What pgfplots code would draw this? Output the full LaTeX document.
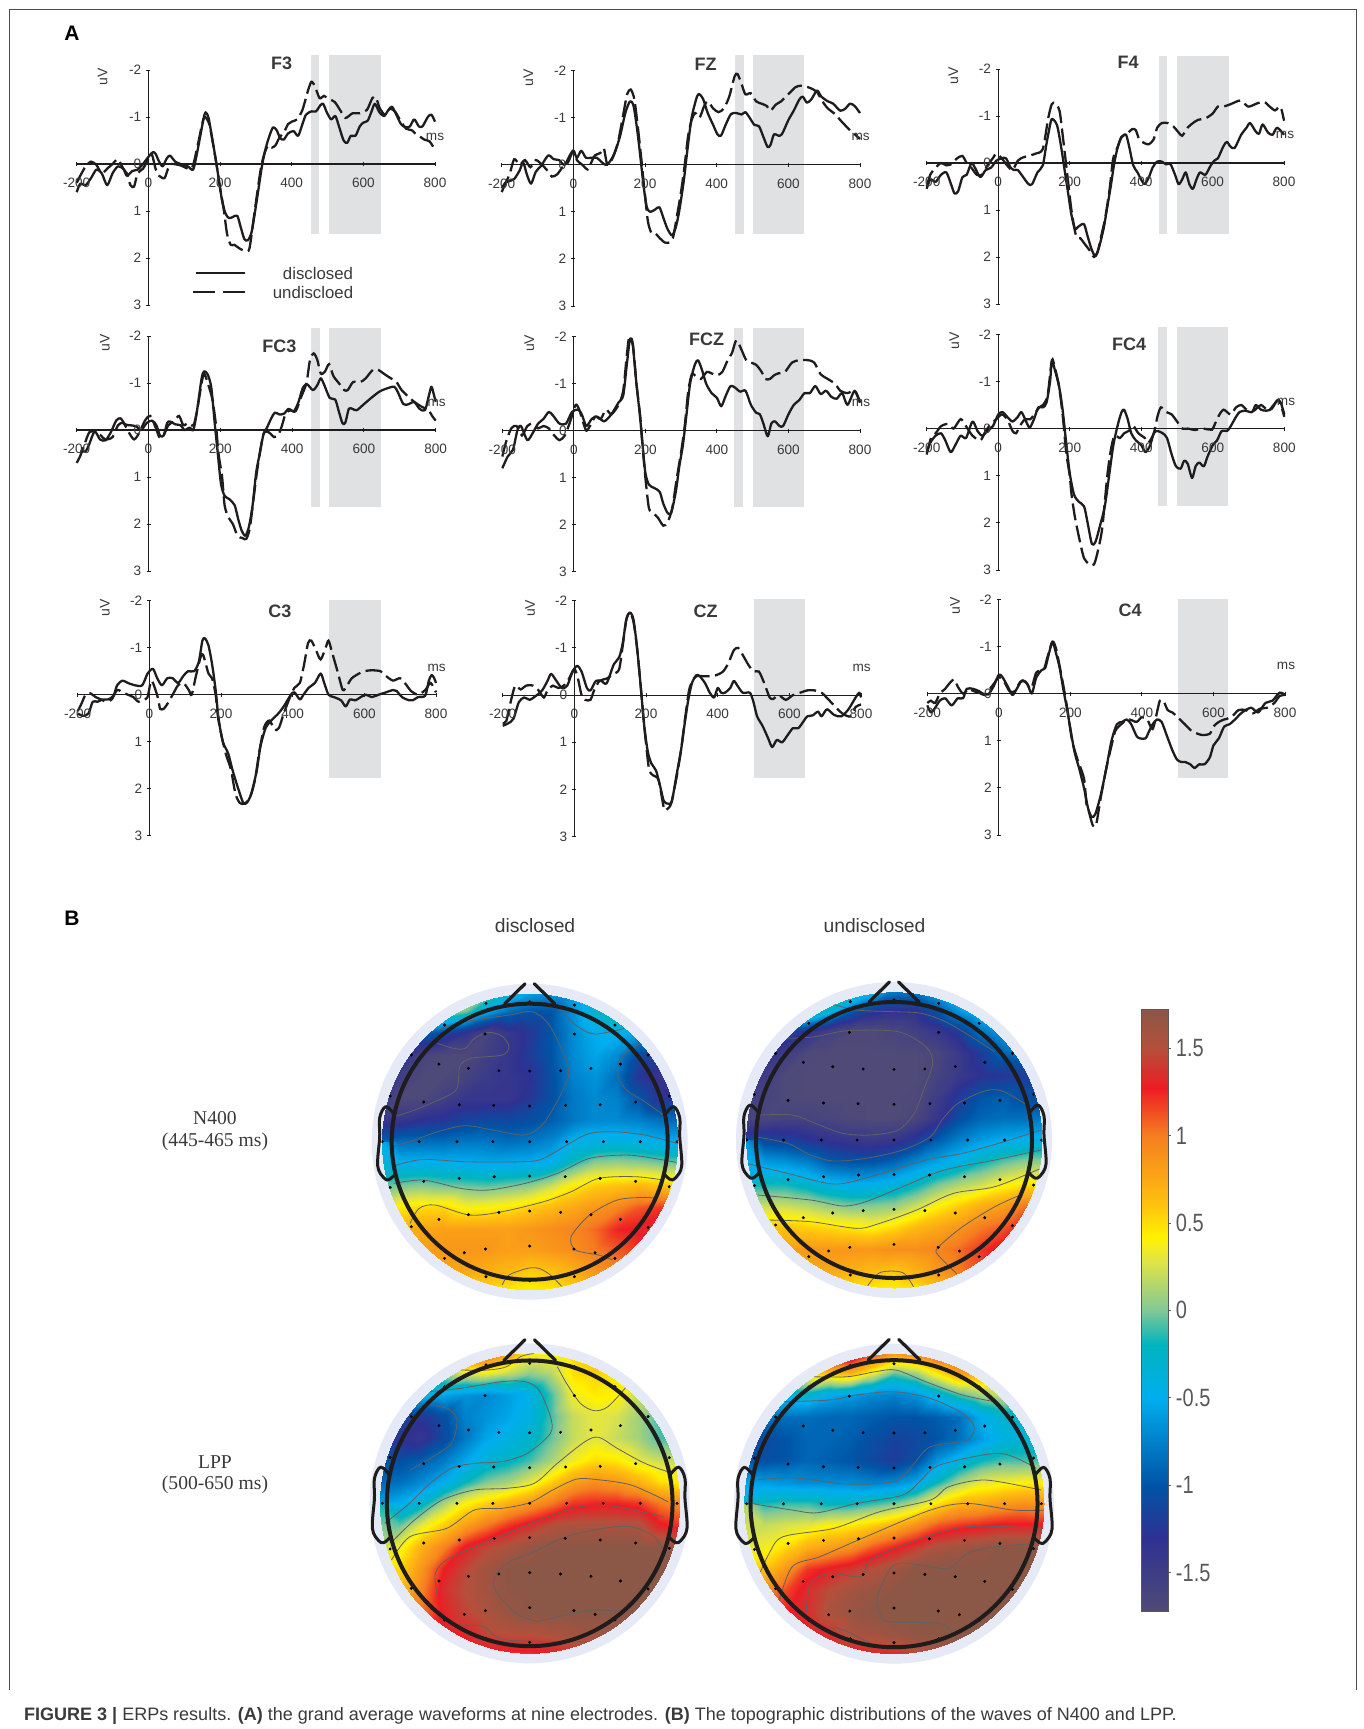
\documentclass[border=0pt]{standalone}
\usepackage{fontspec}
\usepackage{pgfplots}
\usepackage{pgfplotstable}
\pgfplotsset{compat=1.18}
\setmainfont{Liberation Sans}
\newfontfamily\serifl{Liberation Serif}
\definecolor{ink}{HTML}{1E1C1D}
\definecolor{lab}{HTML}{3A3A3A}
\definecolor{band}{HTML}{E0E1E3}
\definecolor{halo}{HTML}{E6EAF6}
\definecolor{barlab}{HTML}{58595B}
\newcommand\fs[1]{\fontsize{#1}{#1}\selectfont}
\pgfplotsset{
  colormap={topo}{rgb255(0pt)=(79,74,120); rgb255(42pt)=(46,49,146); rgb255(72pt)=(0,84,166);
    rgb255(122pt)=(0,174,239); rgb255(152pt)=(0,180,190); rgb255(172pt)=(130,200,150);
    rgb255(200pt)=(225,228,70); rgb255(214pt)=(255,242,0); rgb255(232pt)=(255,194,14);
    rgb255(272pt)=(245,125,32); rgb255(299pt)=(237,28,36); rgb255(322pt)=(180,80,60);
    rgb255(344pt)=(139,87,70)},
  erpax/.style={scale only axis, clip=false, axis lines=middle, axis line style={-,line width=1.1pt,ink},
    xmin=-200,xmax=800,ymin=-2,ymax=3,y dir=reverse, axis on top,
    hide obscured x ticks=false, hide obscured y ticks=false,
    xtick={-200,0,200,400,600,800}, xticklabels={-200,0,200,400,600,800},
    ytick={-2,-1,0,1,2,3}, yticklabels={-2,-1,0,1,2,3},
    major tick length=4pt, tick style={ink,line width=.9pt},
    xticklabel style={font=\fs{13.6},text=lab,inner sep=0pt,anchor=center,yshift=-17pt},
    yticklabel style={font=\fs{13.6},text=lab,inner sep=0pt,anchor=east,xshift=-5pt}},
  solidc/.style={ink,line width=2.3pt,no markers,line join=round,smooth,tension=.45},
  dashc/.style={ink,line width=2.3pt,no markers,smooth,tension=.45,dash pattern=on 17pt off 5.5pt},
  bandp/.style={fill=band,draw=none,no markers},
  ctr/.style={no markers,line width=.8pt,color=black!62,smooth}
}
\newcommand\erp[7]{%
  \pgfmathsetmacro\axw{#2-#1}\pgfmathsetmacro\axh{#4-#3}%
  \begin{axis}[erpax,at={(#1pt,-#3pt)},anchor=north west,width=\axw pt,height=\axh pt]
  #5
  \addplot[solidc] table[row sep=\\,header=false] {#6};
  \addplot[dashc] table[row sep=\\,header=false] {#7};
  \end{axis}}
\newcommand\bnd[4]{\addplot[bandp] coordinates {(#1,#3)(#2,#3)(#2,#4)(#1,#4)} --cycle;}
\newcommand\lbls[7]{%
  \node[font=\fs{18}\bfseries,text=lab,inner sep=0pt] at (#2pt,-#3pt) {#1};
  \node[font=\fs{14},text=lab,rotate=90,inner sep=0pt] at (#4pt,-#5pt) {uV};
  \node[font=\fs{13.6},text=lab,inner sep=0pt] at (#6pt,-#7pt) {ms};}
\newcommand\cl[1]{\addplot[ctr] coordinates {#1};}
\pgfplotstableread{
-185 -350
185 -350
-97 -323
97 -323
-257 -260
257 -260
-197 -233
197 -233
-133 -220
133 -220
-67 -213
67 -213
0 -212
-303 -137
303 -137
-230 -119
230 -119
-153 -111
153 -111
-78 -109
78 -109
0 -107
-320 0
-240 0
-158 0
-80 0
0 0
80 0
160 0
240 0
320 0
-230 119
-153 110
-77 105
0 103
77 105
153 110
230 119
-303 137
303 135
-197 233
-133 219
-67 212
0 208
67 212
133 219
197 233
-257 255
257 257
-185 350
-142 333
-96 322
0 313
96 322
142 333
185 350
-95 405
0 417
97 405
-95 -415
0 -420
97 -410
}\elecs
% #1 cx #2 cy (px) #3 disc r #4 zoom cx #5 zoom cy #6 head scale #7 values #8 contours
\newcommand\topo[8]{%
  \pgfmathsetmacro\hr{#3+10}%
  \fill[halo] (#1pt,-#2pt) circle (\hr pt);
  \begin{scope}
  \clip (#1pt,-#2pt) circle (#3pt);
  \pgfmathsetmacro\xa{#4-330}\pgfmathsetmacro\xb{#4+330}\pgfmathsetmacro\ya{#5-456}\pgfmathsetmacro\yb{#5+456}%
  \begin{axis}[scale only axis,hide axis,at={(#1pt,-#2pt)},anchor=center,width=304pt,height=304pt,
    xmin=\xa,xmax=\xb,ymin=\ya,ymax=\yb,y dir=reverse,colormap name=topo,point meta min=-1.72,point meta max=1.72]
  \addplot[surf,shader=interp,mesh/cols=15,point meta=\thisrowno{0}] table[row sep=\\,header=false,
     x expr={#4-330+47.143*mod(\coordindex,15)},y expr={#5-456+65.143*floor(\coordindex/15)}] {#7};
  #8
  \addplot[only marks,mark=*,mark size=1.3pt,black] table[x expr=\thisrowno{0}+#4,y expr=\thisrowno{1}+#5] {\elecs};
  \end{axis}
  \end{scope}
  \begin{scope}[shift={(#1pt,-#2pt)},x=1pt,y=-1pt,scale=#6]
  \draw[ink,line width=4pt] (0,0) circle (138);
  \draw[ink,line width=3.2pt,line cap=round] (-25,-138) -- (-4.6,-158);
  \draw[ink,line width=3.2pt,line cap=round] (25,-138) -- (4.6,-158);
  \draw[ink,line width=3pt,line join=round] plot[smooth,tension=.6] coordinates {(-136,-28)(-144,-35)(-150,-24)(-150,-5)(-152,24)(-146,36)(-141,38)(-135,33)};
  \draw[ink,line width=3pt,line join=round] plot[smooth,tension=.6] coordinates {(136,-28)(144,-35)(150,-24)(150,-5)(152,24)(146,36)(141,38)(135,33)};
  \end{scope}}
\begin{document}
\begin{tikzpicture}
\path (0pt,0pt) rectangle (1363pt,-1729pt);
\draw[black!70,line width=.8pt] (9pt,-1690pt) -- (9pt,-9pt) -- (1356pt,-9pt) -- (1356pt,-1690pt);
\node[font=\fs{21}\bfseries,inner sep=0pt] at (72pt,-33pt) {A};
\node[font=\fs{21}\bfseries,inner sep=0pt] at (72pt,-918pt) {B};

\erp{76.7}{435}{70}{305}{\bnd{453}{477}{-2.32}{1.48}\bnd{503}{649}{-2.32}{1.48}}
{-200 .6\\-190 .42\\-175 .45\\-160 .3\\-145 .12\\-130 .2\\-115 .45\\-100 .2\\-85 .05\\-70 .1\\-60 .25\\-45 .15\\-30 .12\\-15 0\\0 -.15\\12 -.25\\20 -.22\\30 -.05\\40 .05\\50 -.1\\60 -.18\\75 -.05\\90 0\\110 .05\\125 .12\\135 -.2\\145 -.6\\155 -1.0\\160 -1.1\\168 -.98\\178 -.55\\188 -.1\\195 .25\\205 .75\\215 1.05\\225 1.15\\235 1.13\\248 1.1\\258 1.35\\268 1.6\\278 1.62\\288 1.45\\298 1.0\\308 .5\\318 0\\328 -.35\\338 -.6\\348 -.78\\358 -.72\\368 -.55\\378 -.52\\390 -.65\\405 -.7\\418 -.6\\430 -.85\\440 -1.05\\455 -1.12\\468 -1.12\\480 -1.25\\488 -1.28\\498 -1.1\\510 -.95\\522 -1.02\\532 -.8\\545 -.5\\555 -.45\\565 -.6\\578 -.6\\590 -.8\\600 -.88\\612 -.92\\622 -1.1\\632 -1.28\\645 -1.1\\658 -1.02\\670 -1.15\\680 -1.22\\692 -1.05\\705 -.85\\718 -.78\\730 -.8\\742 -.95\\755 -.8\\765 -.8\\780 -1.0\\790 -1.05\\800 -.9\\}
{-200 .4\\-190 .25\\-175 .05\\-160 -.05\\-145 .02\\-130 .2\\-115 .1\\-100 0\\-85 -.1\\-70 .1\\-60 .2\\-50 .45\\-40 .48\\-30 .2\\-15 .1\\0 -.1\\10 -.2\\20 .1\\30 .25\\45 .3\\55 .1\\65 0\\90 .03\\120 .1\\135 -.3\\150 -.85\\158 -1\\170 -.85\\180 -.45\\190 0\\200 .5\\210 .95\\220 1.5\\230 1.72\\240 1.72\\255 1.8\\270 1.85\\282 1.8\\295 1.1\\305 .55\\315 .05\\325 -.25\\335 -.4\\345 -.35\\355 -.4\\365 -.55\\380 -.7\\390 -.85\\400 -.9\\415 -.95\\430 -1.15\\445 -1.55\\455 -1.75\\465 -1.65\\478 -1.4\\490 -1.45\\505 -1.38\\520 -1.32\\535 -1.15\\550 -.98\\570 -1.08\\590 -1.08\\610 -1.15\\625 -1.4\\635 -1.42\\645 -1.2\\660 -1.05\\675 -1.18\\690 -1.1\\705 -.9\\720 -.75\\735 -.72\\745 -.65\\755 -.6\\770 -.52\\785 -.48\\800 -.3\\}
\lbls{F3}{281.7}{63}{102.7}{76.7}{435}{136.7}

\erp{501.7}{860}{70.7}{306}{\bnd{451}{475}{-2.34}{1.47}\bnd{501}{645}{-2.34}{1.47}}
{-200 .5\\-190 .38\\-180 .35\\-165 .3\\-150 .12\\-140 -.05\\-130 .2\\-118 .4\\-105 .15\\-90 .02\\-70 -.2\\-55 -.12\\-40 -.1\\-25 0\\-10 -.2\\0 -.3\\10 -.15\\22 -.3\\35 -.15\\50 -.15\\65 -.15\\80 -.05\\90 0\\100 -.05\\115 -.25\\130 -.6\\145 -1.1\\158 -1.35\\168 -1.25\\178 -.75\\188 -.1\\196 .45\\205 .9\\215 1.0\\228 .95\\240 .9\\250 1.1\\262 1.35\\275 1.5\\285 1.35\\295 1.0\\308 .35\\318 -.3\\330 -1\\345 -1.45\\352 -1.5\\362 -1.4\\375 -1.1\\390 -.85\\402 -.65\\412 -.62\\425 -.85\\440 -1.08\\455 -1.1\\470 -1.07\\480 -1.12\\492 -1.0\\505 -.85\\518 -.82\\530 -.6\\542 -.38\\550 -.42\\560 -.65\\572 -.62\\582 -.65\\600 -.95\\615 -1.15\\630 -1.38\\640 -1.45\\652 -1.32\\665 -1.4\\680 -1.58\\692 -1.45\\710 -1.35\\725 -1.3\\745 -1.15\\760 -1.2\\772 -1.3\\785 -1.25\\800 -1.1\\}
{-200 .58\\-190 .4\\-178 .2\\-165 -.12\\-150 0\\-135 -.1\\-120 .05\\-105 -.1\\-90 -.02\\-75 .1\\-60 .25\\-45 .2\\-30 .05\\-15 -.05\\0 -.3\\10 -.1\\25 0\\40 .1\\50 -.05\\60 -.2\\75 -.25\\85 -.35\\95 0\\110 -.15\\125 -.5\\140 -1.1\\150 -1.5\\160 -1.6\\170 -1.4\\180 -.8\\190 -.1\\198 .5\\208 1.2\\218 1.45\\228 1.45\\240 1.55\\255 1.65\\268 1.65\\278 1.55\\290 1.05\\300 .6\\310 .05\\320 -.6\\330 -.95\\340 -1.1\\352 -1.0\\365 -1.25\\375 -1.35\\390 -1.2\\405 -1.12\\420 -1.2\\435 -1.45\\450 -1.88\\458 -1.93\\468 -1.75\\480 -1.5\\495 -1.52\\510 -1.35\\525 -1.3\\540 -1.25\\550 -1.15\\565 -1.28\\580 -1.35\\600 -1.5\\620 -1.65\\635 -1.68\\655 -1.65\\670 -1.6\\680 -1.55\\695 -1.35\\710 -1.2\\730 -1.08\\745 -.95\\770 -.75\\785 -.65\\800 -.55\\}
\lbls{FZ}{705.7}{64.7}{528.3}{77.7}{860.7}{136.7}

\erp{926.7}{1284}{69}{304}{\bnd{449}{473}{-2.28}{1.51}\bnd{501}{645}{-2.28}{1.51}}
{-200 .55\\-190 .35\\-175 .4\\-160 .25\\-145 .2\\-132 .45\\-122 .65\\-112 .6\\-100 .3\\-88 .25\\-75 0\\-65 .1\\-50 .3\\-35 .15\\-20 .1\\-5 -.05\\10 -.1\\22 -.1\\35 .1\\45 .15\\55 .15\\70 .3\\85 .45\\95 .45\\110 .2\\125 .05\\135 -.4\\148 -.9\\155 -.92\\165 -.8\\175 -.4\\185 .1\\195 .6\\205 1.1\\215 1.4\\225 1.35\\240 1.3\\250 1.55\\262 1.85\\272 1.98\\282 1.8\\295 1.4\\305 .95\\315 .5\\325 0\\335 -.35\\345 -.55\\358 -.6\\368 -.3\\378 .05\\390 .2\\400 .35\\410 .45\\422 .3\\432 .1\\445 -.03\\458 -.03\\470 .03\\482 .02\\495 .25\\505 .45\\515 .35\\525 .2\\535 .45\\545 .55\\555 .35\\565 .2\\580 .25\\595 .05\\605 -.05\\615 -.1\\630 -.35\\640 -.45\\650 -.35\\662 -.32\\680 -.6\\695 -.75\\705 -.85\\720 -.68\\730 -.62\\740 -.82\\755 -.65\\768 -.6\\780 -.75\\795 -.65\\800 -.6\\}
{-200 .5\\-190 .25\\-175 .1\\-160 0\\-145 .05\\-130 .02\\-115 -.1\\-100 -.15\\-88 0\\-75 .1\\-60 .25\\-45 .25\\-30 .05\\-15 -.1\\-5 -.2\\10 -.1\\25 .05\\40 .15\\55 -.05\\70 -.12\\85 -.15\\105 -.2\\125 -.3\\140 -.95\\150 -1.25\\160 -1.27\\172 -1.1\\182 -.5\\192 .15\\205 1.0\\218 1.55\\230 1.6\\240 1.7\\255 1.85\\268 2.0\\278 1.9\\290 1.5\\300 1.15\\312 .55\\322 -.1\\335 -.35\\345 -.55\\360 -.62\\375 -.72\\385 -.7\\395 -.5\\410 -.42\\422 -.4\\435 -.5\\445 -.75\\458 -.85\\475 -.85\\490 -.78\\505 -.65\\515 -.58\\530 -.75\\545 -.85\\560 -.92\\580 -.95\\600 -1.05\\615 -1.2\\630 -1.2\\650 -1.25\\665 -1.3\\680 -1.33\\700 -1.2\\725 -1.27\\745 -1.3\\760 -1.2\\775 -1.12\\790 -1.2\\800 -.9\\}
\lbls{F4}{1128}{62.7}{953.3}{75.7}{1285}{135}

\erp{76.7}{435.7}{336}{571}{\bnd{453}{477}{-2.18}{1.64}\bnd{503}{649}{-2.18}{1.64}}
{-190 .45\\-175 .45\\-165 .3\\-150 .03\\-135 .2\\-120 .22\\-105 .05\\-90 -.2\\-78 -.25\\-65 -.12\\-50 -.1\\-35 -.08\\-20 0\\-5 -.15\\10 -.2\\22 -.1\\32 .12\\42 .12\\52 -.15\\60 -.18\\75 -.12\\90 -.1\\100 0\\115 -.05\\125 0\\135 -.4\\148 -1.1\\155 -1.25\\165 -1.18\\175 -.9\\185 -.1\\193 .5\\202 1.15\\212 1.4\\225 1.47\\240 1.6\\250 1.9\\260 2.15\\270 2.25\\280 2.05\\290 1.6\\300 .9\\310 .5\\320 .1\\330 -.05\\342 -.25\\352 -.37\\365 -.33\\378 -.35\\390 -.45\\405 -.4\\418 -.6\\430 -.9\\442 -.97\\458 -.85\\470 -.95\\480 -1.1\\490 -.95\\505 -.68\\520 -.65\\530 -.4\\540 -.15\\548 -.15\\558 -.45\\568 -.45\\580 -.42\\600 -.55\\620 -.68\\640 -.8\\652 -.85\\670 -.9\\685 -.92\\695 -.8\\710 -.55\\725 -.55\\740 -.6\\755 -.45\\770 -.42\\780 -.7\\788 -.92\\795 -.75\\800 -.6\\}
{-200 .7\\-190 .55\\-178 .3\\-165 .05\\-150 .03\\-135 .1\\-120 .2\\-100 .15\\-85 -.1\\-70 -.15\\-55 .05\\-40 .2\\-25 .05\\-10 -.2\\5 -.3\\20 -.05\\30 .15\\40 .15\\55 -.1\\70 -.18\\85 -.3\\97 -.1\\110 -.15\\125 -.1\\135 -.4\\148 -1\\155 -1.2\\165 -1\\178 -.65\\188 -.1\\195 .5\\205 1.0\\212 1.6\\222 1.85\\235 2\\248 2.25\\262 2.3\\272 2.32\\282 2.1\\292 1.5\\302 .9\\312 .4\\322 .05\\335 .05\\350 .15\\362 .1\\372 -.1\\382 -.35\\395 -.42\\410 -.4\\425 -.7\\440 -1.0\\450 -1.5\\460 -1.63\\470 -1.5\\480 -1.2\\492 -1.25\\503 -1.4\\515 -1.15\\530 -1.0\\545 -.85\\555 -.85\\570 -1.02\\590 -1.02\\605 -1.1\\625 -1.28\\640 -1.28\\655 -1.2\\675 -1.1\\690 -1.03\\705 -.85\\725 -.7\\740 -.6\\760 -.5\\780 -.42\\790 -.3\\800 -.2\\}
\lbls{FC3}{279.3}{346}{105}{342.7}{436.7}{403.3}

\erp{502.3}{860}{336.7}{571.7}{\bnd{448}{472}{-2.19}{1.62}\bnd{500}{643}{-2.19}{1.62}}
{-200 .8\\-185 .55\\-170 .4\\-158 0\\-148 -.1\\-130 .2\\-115 .05\\-100 -.15\\-85 -.25\\-70 -.4\\-58 -.32\\-40 -.15\\-22 -.15\\-5 -.4\\12 -.45\\22 -.35\\35 -.1\\50 -.25\\65 -.3\\85 -.2\\105 -.35\\125 -.6\\138 -.75\\148 -1.4\\157 -1.95\\165 -1.8\\175 -1.0\\185 -.3\\192 .3\\200 .9\\210 1.15\\225 1.22\\240 1.3\\250 1.55\\262 1.75\\272 1.75\\285 1.3\\295 .75\\305 .3\\315 -.35\\325 -1\\338 -1.4\\347 -1.5\\358 -1.3\\370 -1\\385 -.8\\400 -.7\\412 -.52\\425 -.75\\438 -.95\\450 -.92\\465 -.83\\480 -.85\\495 -.55\\510 -.38\\520 -.35\\530 -.15\\542 .12\\552 -.15\\562 -.2\\575 -.1\\585 -.1\\600 -.35\\615 -.55\\630 -.65\\645 -.8\\660 -.8\\675 -.95\\690 -.78\\705 -.85\\720 -.72\\735 -.68\\750 -.8\\765 -.55\\785 -.85\\800 -.6\\}
{-200 .55\\-190 .25\\-175 -.05\\-160 -.1\\-145 .1\\-130 -.1\\-115 -.15\\-100 -.05\\-85 -.1\\-70 -.05\\-55 .1\\-40 .2\\-25 .1\\-10 -.2\\5 -.55\\15 -.45\\25 -.2\\35 0\\45 -.1\\60 -.3\\75 -.25\\90 -.45\\105 -.35\\125 -.55\\138 -.85\\148 -1.6\\155 -2\\165 -1.85\\175 -1.0\\185 -.35\\192 .3\\200 1\\210 1.65\\222 1.75\\235 1.85\\250 2.02\\262 1.95\\275 1.65\\288 1.0\\300 .45\\310 -.1\\320 -.85\\330 -1.2\\342 -1.15\\355 -1.1\\372 -1.25\\385 -1.22\\400 -1.18\\415 -1.25\\430 -1.5\\442 -1.65\\452 -1.9\\458 -1.9\\470 -1.7\\482 -1.5\\495 -1.45\\510 -1.4\\525 -1.25\\535 -1.1\\548 -1.1\\560 -1.18\\572 -1.22\\590 -1.25\\610 -1.45\\630 -1.5\\655 -1.5\\672 -1.45\\690 -1.2\\710 -1.1\\730 -1\\745 -.85\\765 -.8\\785 -.85\\800 -.6\\}
\lbls{FCZ}{706.7}{339.3}{529.3}{343.3}{861}{403.3}

\erp{926.7}{1284.3}{334.3}{570}{\bnd{448}{471}{-2.15}{1.65}\bnd{499}{643}{-2.15}{1.65}}
{-200 .5\\-190 .3\\-175 .15\\-160 .1\\-148 .25\\-133 .5\\-120 .35\\-105 .15\\-90 .2\\-72 -.15\\-58 .05\\-45 .15\\-30 .05\\-15 -.05\\0 -.3\\12 -.35\\25 -.25\\40 -.15\\55 -.25\\65 -.35\\78 -.15\\88 -.02\\100 -.2\\112 -.45\\125 -.45\\135 -.55\\145 -1.0\\150 -1.42\\160 -1.2\\170 -.9\\180 -.4\\190 .3\\200 .95\\212 1.4\\225 1.55\\240 1.65\\250 2\\262 2.45\\272 2.4\\285 2.05\\298 1.65\\310 1.0\\322 .35\\335 -.1\\345 -.35\\352 -.4\\362 -.2\\372 .1\\385 .25\\400 .35\\412 .5\\425 .35\\435 .1\\445 .05\\460 .1\\472 .2\\485 .55\\497 .8\\510 .85\\520 .68\\530 .75\\542 1.05\\552 .8\\562 .72\\575 .8\\585 .6\\600 .35\\612 .25\\625 .05\\640 .05\\650 -.05\\665 -.25\\675 -.35\\690 -.38\\710 -.35\\720 -.5\\735 -.4\\750 -.38\\765 -.42\\780 -.6\\790 -.55\\800 -.3\\}
{-200 .55\\-188 .2\\-175 .1\\-160 -.05\\-140 -.1\\-125 0\\-105 -.2\\-90 -.05\\-72 .15\\-50 .25\\-35 .05\\-20 -.1\\-5 -.2\\10 -.3\\25 -.2\\40 .05\\50 .1\\60 -.05\\75 -.2\\90 -.2\\105 -.35\\115 -.45\\125 -.5\\138 -.7\\150 -1.45\\158 -1.3\\170 -.9\\180 -.3\\190 .5\\200 1\\205 1.4\\215 1.9\\230 2.45\\240 2.75\\255 2.88\\268 2.88\\280 2.55\\291 2.1\\305 1.0\\315 .45\\325 .15\\340 .2\\352 .1\\365 .05\\378 -.05\\392 .1\\410 .2\\420 .3\\435 .1\\445 -.25\\455 -.45\\470 -.35\\485 -.3\\500 -.15\\515 0\\530 0\\550 .03\\570 0\\590 .02\\600 0\\615 -.25\\630 -.4\\650 -.3\\665 -.45\\680 -.5\\695 -.4\\715 -.38\\735 -.5\\755 -.38\\770 -.5\\785 -.6\\800 -.25\\}
\lbls{FC4}{1129}{344.7}{954.3}{341}{1286}{401.7}

\erp{77.7}{436}{600.7}{835.7}{\bnd{502}{646}{-2.01}{1.77}}
{-200 .4\\-185 .45\\-170 .4\\-158 .15\\-145 .15\\-130 .1\\-115 .1\\-100 .02\\-90 -.2\\-75 -.3\\-60 -.25\\-40 -.2\\-20 -.2\\-5 -.45\\10 -.55\\22 -.35\\35 -.2\\50 -.35\\65 -.35\\80 -.25\\95 -.4\\108 -.5\\125 -.5\\138 -.7\\148 -1.15\\155 -1.2\\165 -1.05\\175 -.65\\185 -.1\\193 .5\\205 1.0\\220 1.25\\232 1.6\\248 2\\262 2.3\\272 2.3\\285 2.1\\300 1.6\\310 1.1\\325 .7\\340 .55\\360 .4\\375 .25\\395 0\\405 -.05\\420 .1\\430 0\\445 -.15\\462 -.25\\478 -.45\\488 -.25\\500 0\\515 .05\\535 .12\\548 .25\\560 .1\\575 .12\\590 .05\\605 0\\620 .05\\640 0\\660 -.05\\680 -.1\\690 -.08\\705 .05\\725 .12\\735 .12\\750 .05\\770 .02\\780 -.3\\788 -.42\\795 -.35\\800 -.25\\}
{-200 .35\\-190 .2\\-178 0\\-165 -.03\\-150 .05\\-135 .1\\-120 .15\\-105 .1\\-90 -.1\\-75 -.05\\-60 0\\-45 .05\\-30 .15\\-15 .1\\-5 .05\\5 -.3\\15 -.15\\25 .1\\30 .3\\40 .3\\50 .2\\65 0\\80 -.2\\95 -.25\\110 -.1\\118 0\\130 -.4\\143 -.8\\150 -.85\\165 -.45\\175 -.35\\185 0\\192 .5\\205 1.0\\215 1.3\\228 1.6\\240 2.1\\252 2.3\\265 2.32\\280 2.2\\295 1.8\\305 1.3\\320 .7\\335 .55\\350 .75\\362 .7\\375 .4\\390 .1\\405 -.15\\420 -.25\\432 -.65\\443 -1.1\\452 -1.15\\465 -.95\\478 -.75\\492 -1\\500 -1.15\\510 -.9\\525 -.5\\540 -.1\\552 -.2\\565 -.35\\585 -.45\\600 -.5\\620 -.52\\645 -.5\\660 -.4\\680 -.3\\700 -.35\\718 -.2\\730 -.08\\750 0\\770 -.1\\785 -.25\\800 -.05\\}
\lbls{C3}{280}{611.7}{105}{607.7}{436.7}{667.7}

\erp{502.7}{861}{600.7}{836.7}{\bnd{500}{644}{-2.03}{1.76}}
{-200 .65\\-185 .6\\-170 .5\\-155 .15\\-140 .05\\-125 .1\\-108 .02\\-90 -.1\\-75 -.3\\-65 -.45\\-50 -.3\\-35 -.15\\-20 -.2\\-5 -.5\\8 -.62\\20 -.5\\35 -.15\\45 -.1\\60 -.3\\75 -.3\\90 -.25\\110 -.65\\125 -.8\\135 -1.1\\145 -1.6\\155 -1.75\\165 -1.6\\175 -1\\185 -.2\\195 .65\\205 1.2\\215 1.45\\228 1.6\\240 1.95\\250 2.25\\262 2.3\\272 2.25\\285 1.7\\298 1.15\\308 .6\\318 .1\\328 -.25\\340 -.42\\350 -.4\\365 -.25\\378 -.05\\390 .05\\400 -.15\\410 -.05\\420 -.05\\435 -.15\\445 -.3\\455 -.2\\470 -.05\\490 -.05\\500 .15\\510 .45\\525 .65\\540 .9\\552 1.1\\565 .95\\580 1\\595 .85\\610 .7\\625 .7\\640 .55\\650 .45\\665 .43\\680 .35\\690 .45\\705 .3\\725 .42\\745 .45\\765 .3\\785 .05\\795 -.05\\800 .05\\}
{-200 .6\\-190 .55\\-178 .15\\-165 -.2\\-150 -.12\\-135 -.2\\-115 -.2\\-100 -.1\\-85 .05\\-75 -.1\\-60 -.2\\-45 -.15\\-30 -.2\\-15 -.35\\0 -.55\\10 -.35\\20 0\\30 .1\\45 .1\\55 -.1\\70 -.3\\90 -.35\\110 -.45\\125 -.55\\135 -1.05\\145 -1.6\\155 -1.75\\165 -1.55\\175 -1\\185 -.2\\195 .65\\208 1.55\\220 1.7\\235 1.8\\250 2.4\\258 2.42\\270 2.3\\285 1.75\\298 1.15\\308 .55\\320 -.1\\330 -.3\\340 -.4\\360 -.4\\375 -.4\\395 -.42\\415 -.5\\430 -.68\\445 -.95\\457 -1\\470 -.85\\485 -.65\\500 -.5\\515 -.5\\530 -.25\\545 .05\\555 .08\\570 0\\590 .1\\610 0\\630 -.05\\650 -.1\\670 -.1\\690 -.05\\710 .1\\735 .3\\750 .4\\770 .45\\785 .25\\800 .2\\}
\lbls{CZ}{705.7}{611.7}{530}{608.3}{861.7}{668.3}

\erp{927.3}{1285}{599.3}{835}{\bnd{500}{642}{-2}{1.79}}
{-200 .25\\-190 .4\\-178 .3\\-165 .15\\-150 .1\\-132 .25\\-115 .1\\-100 .1\\-90 -.1\\-72 -.1\\-55 -.05\\-45 0\\-30 .02\\-15 -.15\\0 -.4\\10 -.35\\25 -.15\\38 .03\\50 -.1\\65 -.28\\80 -.2\\92 0\\105 -.35\\120 -.5\\130 -.55\\140 -.85\\150 -1.1\\160 -.85\\170 -.55\\180 -.1\\190 .3\\200 .75\\212 1.25\\225 1.6\\238 2\\250 2.45\\260 2.62\\270 2.55\\285 2.15\\300 1.6\\315 1\\330 .65\\345 .6\\358 .55\\370 .65\\385 .9\\395 .95\\410 .95\\420 .8\\430 .65\\442 .55\\455 .6\\470 .9\\485 1.2\\498 1.4\\510 1.45\\520 1.45\\535 1.5\\547 1.58\\560 1.5\\575 1.5\\590 1.35\\600 1.1\\615 .95\\630 .7\\645 .65\\660 .55\\680 .4\\705 .3\\725 .4\\745 .2\\765 .15\\785 -.02\\800 .03\\}
{-200 .2\\-190 .15\\-178 .2\\-165 0\\-150 -.1\\-140 -.2\\-125 -.3\\-115 -.15\\-100 0\\-85 -.1\\-70 -.05\\-55 -.02\\-40 .03\\-25 -.1\\-10 -.25\\0 -.35\\15 -.25\\30 -.05\\45 -.05\\60 -.25\\75 -.25\\90 -.1\\105 -.45\\125 -.5\\135 -.75\\150 -1.1\\160 -.95\\172 -.5\\182 -.1\\192 .35\\205 1\\220 1.4\\238 1.8\\245 2.35\\250 2.45\\255 2.6\\263 2.8\\272 2.78\\285 2.2\\300 1.6\\315 1.1\\325 .8\\335 .7\\350 .6\\365 .55\\385 .6\\400 .5\\415 .55\\430 .75\\445 .3\\450 .15\\460 .15\\472 .35\\485 .4\\500 .5\\520 .65\\540 .8\\555 .85\\570 .88\\590 .85\\600 .7\\615 .6\\630 .55\\650 .5\\670 .35\\690 .35\\710 .42\\730 .32\\750 .3\\770 .2\\785 .05\\800 .03\\}
\lbls{C4}{1130}{610}{955}{606}{1286}{666}

% legend of panel F3
\draw[ink,line width=2.3pt] (195.7pt,-272.7pt) -- (245pt,-272.7pt);
\draw[ink,line width=2.3pt,dash pattern=on 22pt off 8pt] (193pt,-291.7pt) -- (245pt,-291.7pt);
\node[font=\fs{16.8},text=lab,inner sep=0pt] at (318pt,-273pt) {disclosed};
\node[font=\fs{16.8},text=lab,inner sep=0pt] at (313pt,-292.7pt) {undiscloed};

% panel B texts
\node[font=\fs{19.3},text=lab,inner sep=0pt] at (535pt,-926pt) {disclosed};
\node[font=\fs{19.3},text=lab,inner sep=0pt] at (874.5pt,-926pt) {undisclosed};
\node[font=\serifl\fs{19.6},text=lab,inner sep=0pt] at (215pt,-1118.5pt) {N400};
\node[font=\serifl\fs{19.6},text=lab,inner sep=0pt] at (215pt,-1141.5pt) {(445-465 ms)};
\node[font=\serifl\fs{19.6},text=lab,inner sep=0pt] at (215pt,-1462.5pt) {LPP};
\node[font=\serifl\fs{19.6},text=lab,inner sep=0pt] at (215pt,-1484.5pt) {(500-650 ms)};

\topo{529.7}{1141.7}{148}{390}{545}{1}
{.3\\.3\\.3\\.3\\.3\\.2\\-.2\\-.5\\-.6\\-.5\\-.3\\-.1\\0\\0\\0\\
.2\\.2\\.2\\.2\\0\\-.5\\-.85\\-1\\-1\\-.65\\-.3\\-.1\\-.1\\-.1\\-.1\\
-.9\\-.9\\-.9\\-1.1\\-1.35\\-1.6\\-1.4\\-1.25\\-1\\-.7\\-.5\\-.45\\-.6\\-.6\\-.6\\
-1.2\\-1.2\\-1.6\\-1.7\\-1.7\\-1.55\\-1.4\\-1.2\\-1\\-.7\\-.55\\-.7\\-1.1\\-1.2\\-1.2\\
-1.3\\-1.5\\-1.7\\-1.7\\-1.6\\-1.45\\-1.4\\-1.3\\-1.05\\-.75\\-.65\\-.85\\-1.25\\-1.4\\-1.3\\
-1.4\\-1.7\\-1.7\\-1.55\\-1.4\\-1.4\\-1.4\\-1.25\\-1.05\\-.8\\-.7\\-.75\\-1\\-1.3\\-1.2\\
-1.4\\-1.4\\-1.3\\-1.25\\-1.15\\-1.1\\-1.1\\-1.05\\-.95\\-.8\\-.7\\-.7\\-.75\\-.85\\-.9\\
-.9\\-.85\\-.85\\-.85\\-.8\\-.8\\-.85\\-.8\\-.7\\-.45\\-.4\\-.38\\-.42\\-.48\\-.5\\
-.45\\-.47\\-.45\\-.48\\-.5\\-.52\\-.52\\-.5\\-.45\\-.15\\.05\\.08\\.05\\0\\-.03\\
-.05\\-.02\\.02\\-.03\\-.05\\-.08\\-.03\\.03\\.2\\.42\\.55\\.6\\.65\\.6\\.55\\
.3\\.45\\.5\\.52\\.38\\.4\\.45\\.55\\.65\\.75\\.85\\.95\\1.1\\1.2\\1.15\\
.6\\.7\\.75\\.8\\.8\\.8\\.8\\.85\\.9\\.95\\1.05\\1.25\\1.3\\1.35\\1.3\\
.6\\.7\\.8\\.85\\.85\\.85\\.8\\.8\\.85\\.9\\1\\1.1\\1.2\\1.2\\1.2\\
.5\\.6\\.7\\.75\\.75\\.7\\.65\\.55\\.6\\.7\\.85\\.95\\1\\1\\1\\
.4\\.4\\.45\\.45\\.45\\.45\\.42\\.4\\.42\\.5\\.6\\.7\\.8\\.8\\.8\\}
{\cl{(100,468)(130,455)(175,430)(230,390)(238,320)(262,295)(330,285)(345,260)(330,228)(300,217)(270,235)(250,265)(225,265)(190,250)}
\cl{(195,205)(250,185)(345,165)(395,155)(430,190)(460,270)(475,340)(455,410)(420,490)(380,525)(310,510)(250,497)(190,515)(130,545)(95,558)}
\cl{(630,250)(590,290)(580,340)(600,390)(640,425)(690,475)}
\cl{(460,150)(490,195)(530,222)(595,205)}
\cl{(100,615)(160,598)(250,605)(370,605)(420,595)(510,525)(570,515)(640,525)(710,550)}
\cl{(95,670)(160,660)(240,685)(300,690)(380,670)(450,640)(520,595)(600,585)(660,595)(720,610)}
\cl{(130,790)(150,745)(185,735)(260,765)(330,755)(420,725)(480,695)(540,655)(620,650)(680,660)}
\cl{(570,900)(540,885)(490,870)(480,830)(520,765)(580,720)(640,712)(665,715)}
\cl{(330,975)(345,945)(385,925)(410,925)(435,945)(460,980)}}

\topo{894}{1140}{148}{1181}{540}{1}
{.4\\.4\\.4\\.4\\.4\\.3\\-.2\\-.7\\-.7\\-.4\\-.1\\0\\0\\0\\0\\
.2\\.2\\.2\\.2\\-.3\\-.9\\-1.2\\-1.3\\-1.3\\-1\\-.6\\-.35\\-.3\\-.3\\-.3\\
-.9\\-.9\\-1.1\\-1.3\\-1.55\\-1.7\\-1.7\\-1.65\\-1.55\\-1.4\\-1.2\\-.8\\-.6\\-.5\\-.5\\
-1.3\\-1.3\\-1.5\\-1.7\\-1.75\\-1.75\\-1.75\\-1.75\\-1.75\\-1.65\\-1.45\\-1.2\\-.9\\-.85\\-.9\\
-1.4\\-1.5\\-1.7\\-1.75\\-1.75\\-1.75\\-1.75\\-1.75\\-1.75\\-1.6\\-1.45\\-1.3\\-1.25\\-1.2\\-1.1\\
-1.5\\-1.6\\-1.7\\-1.75\\-1.75\\-1.75\\-1.75\\-1.75\\-1.7\\-1.5\\-1.2\\-1\\-.95\\-1.05\\-1.1\\
-1.6\\-1.65\\-1.6\\-1.6\\-1.65\\-1.7\\-1.75\\-1.75\\-1.65\\-1.4\\-1.05\\-.9\\-.85\\-.85\\-.8\\
-1.1\\-1.1\\-1.15\\-1.25\\-1.35\\-1.4\\-1.45\\-1.4\\-1.2\\-.95\\-.75\\-.6\\-.5\\-.45\\-.4\\
-.6\\-.6\\-.65\\-.75\\-.95\\-1\\-1\\-.9\\-.7\\-.55\\-.4\\-.2\\-.05\\.05\\.05\\
-.3\\-.2\\-.2\\-.3\\-.45\\-.52\\-.5\\-.42\\-.25\\-.05\\.1\\.2\\.35\\.45\\.45\\
.2\\.2\\.2\\.15\\.05\\-.02\\0\\.05\\.2\\.4\\.55\\.7\\.8\\1\\1.1\\
.6\\.6\\.6\\.55\\.5\\.45\\.4\\.5\\.65\\.75\\.85\\1\\1.1\\1.3\\1.45\\
.7\\.75\\.8\\.85\\.85\\.85\\.85\\.9\\.9\\.95\\1.05\\1.2\\1.35\\1.45\\1.5\\
.6\\.65\\.7\\.75\\.75\\.7\\.65\\.6\\.7\\.85\\1\\1.15\\1.2\\1.2\\1.2\\
.5\\.5\\.5\\.5\\.5\\.45\\.42\\.4\\.42\\.55\\.75\\.9\\1\\1\\1\\}
{\cl{(890,465)(960,465)(1010,490)(1070,520)(1130,525)(1190,510)(1225,460)(1245,390)(1265,310)(1250,260)(1190,215)(1080,212)(1010,230)(950,235)}
\cl{(880,530)(950,550)(1000,585)(1050,603)(1120,595)(1200,570)(1260,530)(1285,480)(1320,430)(1380,392)(1420,395)(1480,445)}
\cl{(860,610)(950,640)(1050,672)(1130,650)(1250,600)(1330,580)(1420,545)(1500,510)}
\cl{(885,705)(1000,720)(1070,738)(1120,725)(1200,680)(1290,630)(1400,600)(1500,570)}
\cl{(905,780)(1000,785)(1100,805)(1150,790)(1230,750)(1310,700)(1400,680)(1500,625)}
\cl{(1320,945)(1280,890)(1275,865)(1330,800)(1400,740)(1455,705)}
\cl{(1120,985)(1150,938)(1200,938)(1225,985)}
\cl{(1040,130)(1100,150)(1180,155)(1240,160)(1300,190)(1400,275)}}

\topo{529.7}{1503.3}{150}{390}{550}{1.035}
{1.2\\1.2\\1.2\\1.2\\1.2\\1.2\\.9\\.45\\.45\\.5\\.6\\.6\\.6\\.5\\.5\\
.2\\.2\\.1\\.05\\.3\\.35\\.2\\.05\\.15\\.5\\.55\\.45\\.3\\.2\\.2\\
-.4\\-.5\\-.4\\-.55\\-.65\\-.7\\-.6\\-.45\\-.1\\.35\\.45\\.42\\.2\\.1\\.1\\
-1\\-1.1\\-1.25\\-1.05\\-.75\\-.65\\-.55\\-.4\\-.1\\.2\\.3\\.25\\.1\\-.1\\-.1\\
-1.3\\-1.3\\-1.4\\-1.1\\-.8\\-.55\\-.4\\-.3\\-.05\\.2\\.3\\.2\\.1\\-.1\\-.1\\
-1\\-1.05\\-.95\\-.8\\-.55\\-.35\\-.25\\-.1\\.1\\.35\\.5\\.45\\.3\\.2\\.2\\
-.9\\-.85\\-.7\\-.5\\-.2\\0\\.1\\.3\\.55\\.8\\.9\\.85\\.7\\.5\\.4\\
-.6\\-.5\\-.3\\.1\\.4\\.55\\.7\\.85\\1\\1.2\\1.25\\1.25\\1.2\\1\\.9\\
-.2\\-.05\\.3\\.55\\.8\\1\\1.2\\1.35\\1.5\\1.55\\1.55\\1.55\\1.55\\1.3\\1.2\\
.2\\.35\\.7\\.95\\1.3\\1.45\\1.55\\1.65\\1.7\\1.75\\1.75\\1.75\\1.75\\1.7\\1.6\\
.4\\.5\\.85\\1.25\\1.45\\1.6\\1.7\\1.75\\1.75\\1.75\\1.75\\1.75\\1.75\\1.75\\1.7\\
.5\\.6\\.95\\1.35\\1.5\\1.6\\1.7\\1.75\\1.75\\1.75\\1.75\\1.75\\1.75\\1.75\\1.7\\
.7\\.8\\1\\1.3\\1.45\\1.55\\1.65\\1.75\\1.75\\1.75\\1.75\\1.75\\1.7\\1.7\\1.7\\
1\\1\\1.15\\1.25\\1.3\\1.45\\1.5\\1.5\\1.55\\1.6\\1.6\\1.65\\1.65\\1.6\\1.6\\
1.2\\1.2\\1.2\\1.2\\1.2\\1.2\\1.2\\1.2\\1.25\\1.35\\1.45\\1.5\\1.5\\1.5\\1.5\\}
{\cl{(150,250)(210,265)(232,300)(220,370)(180,410)(130,450)}
\cl{(175,215)(240,205)(330,185)(380,185)(410,210)(435,290)(435,340)(385,400)(330,425)(270,430)(220,445)(170,495)(125,555)(75,610)}
\cl{(95,660)(140,600)(200,540)(270,510)(340,505)(400,490)(450,430)(510,365)(540,352)(580,385)(640,430)(700,460)}
\cl{(90,720)(130,650)(210,625)(270,570)(330,565)(390,548)(440,510)(490,478)(530,478)(610,495)(690,545)}
\cl{(190,830)(185,760)(215,715)(300,665)(420,595)(500,560)(570,558)(680,590)}
\cl{(405,905)(360,880)(320,820)(312,780)(340,730)(400,695)(470,650)(550,625)(610,620)(660,650)(690,720)(680,800)(630,870)(530,870)(470,885)(405,905)}
\cl{(450,140)(470,190)(500,250)(530,272)(560,260)(600,200)}
\cl{(235,150)(300,150)(340,140)(370,110)(400,100)}
\cl{(240,915)(290,920)(340,960)(520,965)}}

\topo{894}{1503.7}{150}{1181}{551}{1.04}
{1.7\\1.7\\1.7\\1.7\\1.7\\1.65\\1.2\\.9\\1\\1.25\\1.3\\1.1\\1\\1\\1\\
.5\\.5\\.5\\.5\\.6\\.7\\.35\\-.05\\.1\\.45\\.8\\.8\\.6\\.6\\.6\\
-.4\\-.4\\-.4\\-.3\\-.5\\-.6\\-.7\\-.75\\-.65\\-.4\\-.1\\.1\\.2\\.1\\.1\\
-.8\\-.8\\-.85\\-.85\\-.9\\-.9\\-.95\\-1\\-1\\-.95\\-.85\\-.5\\-.3\\-.3\\-.3\\
-1.1\\-1.1\\-1\\-.9\\-.9\\-.95\\-1.05\\-1.15\\-1.1\\-1\\-.85\\-.6\\-.4\\-.35\\-.35\\
-1\\-1.05\\-1\\-.9\\-.95\\-1\\-1.1\\-1.2\\-1.05\\-.65\\-.4\\-.2\\-.1\\-.1\\-.1\\
-.55\\-.6\\-.65\\-.7\\-.7\\-.7\\-.75\\-.7\\-.55\\-.2\\.1\\.3\\.35\\.4\\.4\\
-.3\\-.15\\-.1\\-.1\\-.2\\-.2\\-.1\\0\\.2\\.5\\.7\\.75\\.85\\.9\\.85\\
.15\\.2\\.25\\.3\\.4\\.45\\.55\\.7\\.9\\1.1\\1.2\\1.25\\1.3\\1.3\\1.3\\
.3\\.35\\.5\\.7\\.8\\.9\\1.1\\1.25\\1.4\\1.55\\1.6\\1.65\\1.7\\1.7\\1.7\\
.5\\.6\\.85\\1.2\\1.3\\1.4\\1.5\\1.6\\1.7\\1.75\\1.75\\1.75\\1.75\\1.75\\1.75\\
.8\\.9\\1.15\\1.35\\1.5\\1.6\\1.65\\1.7\\1.75\\1.75\\1.75\\1.75\\1.75\\1.75\\1.75\\
1\\1.05\\1.25\\1.35\\1.55\\1.65\\1.7\\1.75\\1.75\\1.75\\1.75\\1.75\\1.75\\1.75\\1.75\\
1.15\\1.15\\1.2\\1.25\\1.35\\1.55\\1.6\\1.65\\1.7\\1.7\\1.75\\1.75\\1.7\\1.7\\1.7\\
1.2\\1.2\\1.2\\1.2\\1.2\\1.2\\1.25\\1.3\\1.45\\1.6\\1.7\\1.75\\1.75\\1.75\\1.75\\}
{\cl{(880,480)(960,473)(1060,490)(1130,492)(1190,480)(1225,430)(1260,380)(1340,360)(1355,320)(1330,280)(1260,235)(1180,215)(1100,225)(1040,240)(940,245)}
\cl{(870,550)(960,570)(1015,578)(1100,550)(1200,525)(1240,480)(1280,435)(1410,400)(1490,445)}
\cl{(885,775)(910,700)(940,650)(1050,625)(1150,575)(1260,540)(1300,500)(1380,480)(1500,510)}
\cl{(930,850)(960,740)(1020,710)(1120,650)(1260,570)(1340,550)(1440,570)(1510,570)}
\cl{(990,880)(1000,790)(1040,760)(1110,770)(1130,720)(1230,660)(1340,620)(1500,625)}
\cl{(1310,945)(1280,910)(1170,905)(1150,880)(1145,830)(1180,735)(1240,735)(1300,745)(1340,700)(1400,680)(1500,670)}
\cl{(1000,930)(1060,925)(1130,970)}
\cl{(1000,170)(1080,170)(1140,155)(1185,150)(1250,185)(1330,225)(1400,245)}}

% colour bar
\begin{axis}[scale only axis,at={(1141pt,-1009.5pt)},anchor=north west,width=27pt,height=601.5pt,
  xmin=0,xmax=1,ymin=-1.72,ymax=1.72,colormap name=topo,point meta min=-1.72,point meta max=1.72,
  xtick=\empty,ytick={-1.5,-1,-.5,0,.5,1,1.5},yticklabels={-1.5,-1,-0.5,0,0.5,1,1.5},
  ytick pos=right,yticklabel pos=right,major tick length=3pt,tick align=outside,
  tick style={barlab,line width=.6pt},axis line style={barlab,line width=.8pt},axis on top,
  yticklabel style={font=\fs{25},text=barlab,inner sep=0pt,xscale=.8,anchor=west,xshift=6pt}]
\addplot[surf,shader=interp,mesh/cols=2,point meta=\thisrowno{1}] table[row sep=\\,header=false]
{0 -1.72\\1 -1.72\\0 -1.3\\1 -1.3\\0 -1\\1 -1\\0 -.5\\1 -.5\\0 -.2\\1 -.2\\0 0\\1 0\\0 .28\\1 .28\\0 .42\\1 .42\\0 .6\\1 .6\\0 1\\1 1\\0 1.27\\1 1.27\\0 1.5\\1 1.5\\0 1.72\\1 1.72\\};
\end{axis}

\node[anchor=west,font=\fs{18},text=lab,inner sep=0pt] at (24pt,-1716pt)
 {\textbf{FIGURE 3 |} ERPs results. \textbf{(A)} the grand average waveforms at nine electrodes. \textbf{(B)} The topographic distributions of the waves of N400 and LPP.};
\end{tikzpicture}
\end{document}
